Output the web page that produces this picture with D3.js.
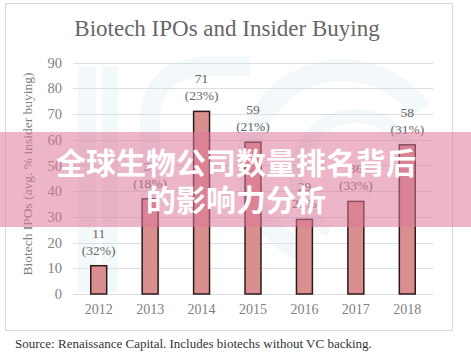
<!DOCTYPE html>
<html><head><meta charset="utf-8">
<script src="https://cdn.jsdelivr.net/npm/d3@7"></script>
<style>body{margin:0;background:#fff}svg{display:block}</style>
</head><body>
<svg id="c" width="471" height="360"></svg>
<script>
const years = ["2012","2013","2014","2015","2016","2017","2018"];
const ipos = [11,37,71,59,29,36,58];
const insiderPct = ["(32%)","(18%)","(23%)","(21%)","(25%)","(33%)","(31%)"];
const yTicks = [0,10,20,30,40,50,60,70,80,90];
const title = "Biotech IPOs and Insider Buying";
const yLabel = "Biotech IPOs (avg. % insider buying)";
const source = "Source: Renaissance Capital. Includes biotechs without VC backing.";
const bannerLines = ["全球生物公司数量排名背后","的影响力分析"];

const svg = d3.select("#c");
const serif = "'Liberation Serif','DejaVu Serif',serif";

// frame
svg.append("rect").attr("x",5.5).attr("y",3.5).attr("width",447).attr("height",327)
  .attr("fill","#fff").attr("stroke","#d9d9d9").attr("stroke-width",1);

const x = d3.scaleBand().domain(years).range([73,433]).paddingInner(0.69).paddingOuter(0.345);
const y = d3.scaleLinear().domain([0,90]).range([294,62.5]);

// faint watermark
const wm = svg.append("g").attr("opacity",0.4);
wm.append("rect").attr("x",78).attr("y",66).attr("width",18).attr("height",226).attr("fill","#e3f1f7");
wm.append("rect").attr("x",102).attr("y",66).attr("width",16).attr("height",226).attr("fill","#e3f1f7");
wm.append("path").attr("d","M150,292 L150,120 Q150,66 215,66 L250,66").attr("fill","none").attr("stroke","#e3f1f7").attr("stroke-width",20);
wm.append("path").attr("d","M300,250 A95,95 0 1 1 420,110").attr("fill","none").attr("stroke","#e3f1f7").attr("stroke-width",22);
wm.append("path").attr("d","M330,230 A60,60 0 1 1 410,150").attr("fill","none").attr("stroke","#e3f1f7").attr("stroke-width",14);

// gridlines
svg.append("g").selectAll("line").data(yTicks).join("line")
  .attr("x1",73).attr("x2",433).attr("y1",d=>Math.round(y(d))+0.5).attr("y2",d=>Math.round(y(d))+0.5)
  .attr("stroke","#dcdfe2").attr("stroke-width",1);

// y axis
const ya = svg.append("g").attr("transform","translate(62,0)")
  .call(d3.axisLeft(y).tickValues(yTicks).tickSize(0).tickPadding(0));
ya.select(".domain").remove();
ya.selectAll("text").attr("font-family",serif).attr("font-size",14.5).attr("fill","#7f7f7f");

// x axis
const xa = svg.append("g").attr("transform","translate(0,304)")
  .call(d3.axisBottom(x).tickSize(0).tickPadding(0));
xa.select(".domain").remove();
xa.selectAll("text").attr("font-family",serif).attr("font-size",14).attr("fill","#7f7f7f").attr("dy","0.71em");

// bars
svg.append("g").selectAll("rect").data(ipos).join("rect")
  .attr("x",(d,i)=>x(years[i])).attr("width",x.bandwidth())
  .attr("y",d=>y(d)).attr("height",d=>y(0)-y(d))
  .attr("fill","#d98f8f").attr("stroke","#2e1a1a").attr("stroke-width",1.5);

// labels
const lab = svg.append("g").attr("font-family",serif).attr("font-size",13.5).attr("fill","#666").attr("text-anchor","middle");
lab.selectAll("text.v").data(ipos).join("text").attr("class","v")
  .attr("x",(d,i)=>x(years[i])+x.bandwidth()/2).attr("y",d=>y(d)-28).text(d=>d);
lab.selectAll("text.p").data(ipos).join("text").attr("class","p")
  .attr("x",(d,i)=>x(years[i])+x.bandwidth()/2).attr("y",d=>y(d)-11).text((d,i)=>insiderPct[i]);

// title
svg.append("text").attr("x",227).attr("y",36).attr("text-anchor","middle")
  .attr("font-family",serif).attr("font-size",23).attr("fill","#666").text(title);

// y label
svg.append("text").attr("transform","translate(32,174) rotate(-90)").attr("text-anchor","middle")
  .attr("font-family",serif).attr("font-size",13.5).attr("fill","#7f7f7f").text(yLabel);

// source
svg.append("text").attr("x",15).attr("y",348).attr("font-family",serif).attr("font-size",13)
  .attr("fill","#333").text(source);

// banner
svg.append("rect").attr("x",0).attr("y",132).attr("width",471).attr("height",95)
  .attr("fill","rgb(221,120,155)").attr("fill-opacity",0.55);
svg.append("g").selectAll("text").data(bannerLines).join("text")
  .attr("x",236).attr("y",(d,i)=>174+i*37).attr("text-anchor","middle")
  .attr("font-family","'Noto Sans CJK SC',sans-serif").attr("font-weight",700)
  .attr("font-size",30).attr("fill","#fff").text(d=>d);
</script>
</body></html>
